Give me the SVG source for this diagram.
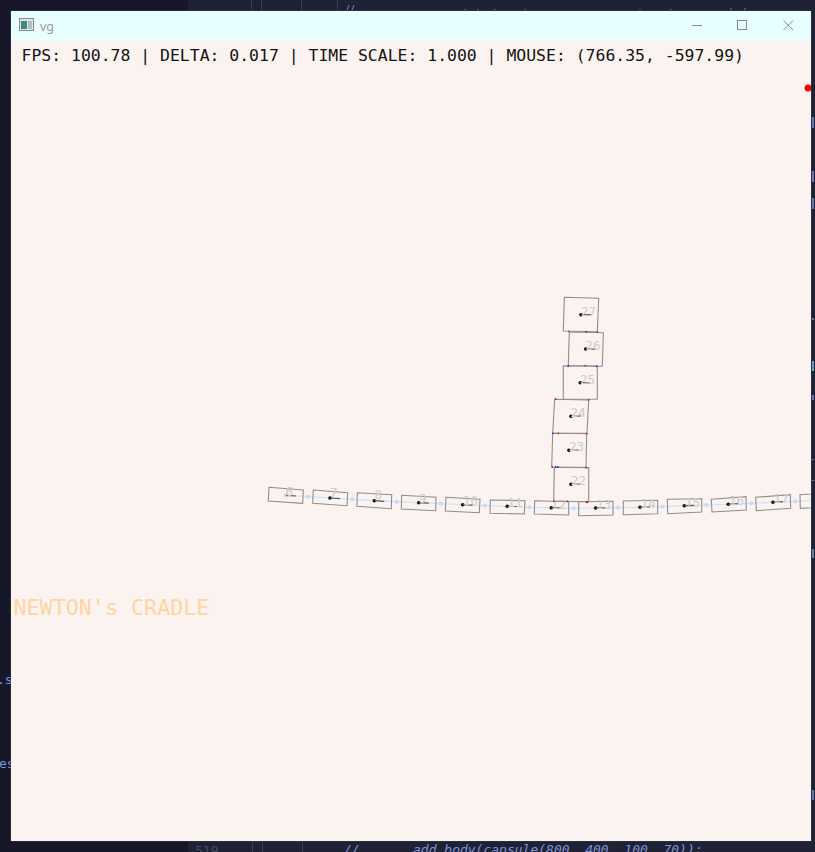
<svg xmlns="http://www.w3.org/2000/svg" width="815" height="852" viewBox="0 0 815 852">
<style>
.box{fill:none;stroke:#918e8d;stroke-width:1.100}
.dot{fill:#0a0a0a}
.tick{stroke:#5a5a5a;stroke-width:1.200;fill:none}
.num{font-family:"DejaVu Sans Mono","Liberation Mono",monospace;font-size:12.500px;fill:#cfccca}
.pin{fill:#c4dcfb}
.r{fill:#e8122c}
.b{fill:#2a2ae0}
.ide{font-family:"DejaVu Sans Mono","Liberation Mono",monospace;font-size:13px;fill:#7d93d8}
.ctl{fill:none;stroke:#8a8a8a;stroke-width:1}
</style>
<defs>
<clipPath id="win"><rect x="11" y="11" width="800" height="830"/></clipPath>
</defs>
<rect width="815" height="852" fill="#1f2135"/>
<rect x="0" y="0" width="188" height="852" fill="#16182a"/>
<g id="ide">
<path d="M251.500 0V11M261.500 0V11M301.500 0V11M337.500 0V11M252.500 841V852M262.500 841V852M302.500 841V852" stroke="#3a3c50" fill="none"/>
<text class="ide" x="195" y="855" style="fill:#464a68">519</text>
<text class="ide" x="344" y="854" font-style="italic">//</text>
<text class="ide" x="413" y="854" font-style="italic">add_body(capsule(800, 400, 100, 70));</text>
<path d="M347 10L349 5M352 10L354 5M465 10V9M478 10V9M495 10V9M525 10V9M640 10V9M671 10V9M731 10V8M745 10V8" stroke="#6f84c4" fill="none"/>
<text class="ide" x="-3" y="684" font-size="11">.s</text>
<text class="ide" x="-1" y="768">es</text>
<path d="M813 117V128M813 171V182M813 198V209M813 318V320M813 395V400M813 459V460M813 480V481M813 549V558M813 790V800" stroke="#5f76c0" stroke-width="2" fill="none"/>
<path d="M813 361V371" stroke="#4aa7c8" stroke-width="2" fill="none"/>
</g>
<rect x="10.500" y="10.500" width="801" height="831" fill="#3a3b4a"/>
<rect x="11" y="11" width="800" height="30" fill="#e8ffff"/>
<rect x="11" y="41" width="800" height="800" fill="#fbf3f0"/>
<g id="titlebar">
<rect x="19.500" y="18.500" width="14" height="12" fill="#dfe6e6" stroke="#8a8a8a"/>
<rect x="21" y="21" width="6" height="8" fill="#3d8a7d"/>
<rect x="28" y="21" width="4" height="8" fill="#a9c0c9"/>
<text x="40" y="31" font-family="Noto Sans,Liberation Sans,sans-serif" font-size="12.500" fill="#a39895">vg</text>
<path class="ctl" d="M692 25.500H702"/>
<rect class="ctl" x="737.500" y="20.500" width="9" height="9"/>
<path class="ctl" d="M783.500 20.500L793 30M793 20.500L783.500 30"/>
</g>
<text id="hud" x="21.500" y="61" font-family="DejaVu Sans Mono,Liberation Mono,monospace" font-size="16.440" fill="#141414">FPS: 100.78 | DELTA: 0.017 | TIME SCALE: 1.000 | MOUSE: (766.35, -597.99)</text>
<text id="title" x="13.500" y="615" font-family="DejaVu Sans Mono,Liberation Mono,monospace" font-size="21.700" fill="#ffd5a3">NEWTON's CRADLE</text>
<g clip-path="url(#win)">
<circle id="mouse" cx="808" cy="88" r="3.500" fill="#ff0000"/>
<g id="connectors">
<polyline points="286,495.300 308,496.700 330,498 352.300,499.300 374.300,500.700 396.700,501.700 418.700,502.700 440.700,503.700 462.700,504.700 485,505.700 507.300,506.300 529.300,507.300 551.300,507.700 573.700,508.300 595.700,508 618,507.700 640,507.300 662.300,506.700 684.300,505.700 706.300,505 728.300,504.300 751,503.300 773,502.300 795.300,501.300 817,500" fill="none" stroke="#cfe2fb" stroke-width="1.200"/>
<rect class="pin" x="284" y="493.300" width="4" height="4"/>
<g class="pin">
<circle cx="308" cy="496.700" r="2.100"/><circle cx="352.300" cy="499.300" r="2.100"/><circle cx="396.700" cy="501.700" r="2.100"/><circle cx="440.700" cy="503.700" r="2.100"/><circle cx="485" cy="505.700" r="2.100"/><circle cx="529.300" cy="507.300" r="2.100"/><circle cx="573.700" cy="508.300" r="2.100"/><circle cx="618" cy="507.700" r="2.100"/><circle cx="662.300" cy="506.700" r="2.100"/><circle cx="706.300" cy="505" r="2.100"/><circle cx="751" cy="503.300" r="2.100"/><circle cx="795.300" cy="501.300" r="2.100"/>
</g>
</g>
<g id="node-6"><polygon class="box" points="269,487.300 303.300,490 302.700,503.300 268.300,501"/><path class="tick" d="M286 495.300L296 496"/><text class="num" x="285.500" y="496">6</text></g>
<g id="node-7"><polygon class="box" points="313.300,490 347.700,492.700 347,505.700 312.700,503.300"/><circle class="dot" cx="330" cy="498" r="1.800"/><path class="tick" d="M330 498L340 498.700"/><text class="num" x="330" y="497">7</text></g>
<g id="node-8"><polygon class="box" points="357.300,492.700 391.700,494.700 391.300,508.700 357,506.300"/><circle class="dot" cx="374.300" cy="500.700" r="1.800"/><path class="tick" d="M374.300 500.700L384.300 501.400"/><text class="num" x="374.500" y="499">8</text></g>
<g id="node-9"><polygon class="box" points="401.700,495.300 436,497.300 435.700,510.700 401.300,509"/><circle class="dot" cx="418.700" cy="502.700" r="1.800"/><path class="tick" d="M418.700 502.700L428.700 503.200"/><text class="num" x="419" y="503">9</text></g>
<g id="node-10"><polygon class="box" points="446,497.300 480,499.300 479.300,512.700 445.300,511"/><circle class="dot" cx="462.700" cy="504.700" r="1.800"/><path class="tick" d="M462.700 504.700L472.700 505.200"/><text class="num" x="463" y="505">10</text></g>
<g id="node-11"><polygon class="box" points="490.300,500 525,500.700 524.300,514 490,513.300"/><circle class="dot" cx="507.300" cy="506.300" r="1.800"/><path class="tick" d="M507.300 506.300L517.300 506.500"/><text class="num" x="507.500" y="507">11</text></g>
<g id="node-12"><polygon class="box" points="534.700,500.700 568.700,501.700 568.700,515 534.300,514"/><circle class="dot" cx="551.300" cy="507.700" r="1.800"/><path class="tick" d="M551.300 507.700L561.300 508"/><text class="num" x="551" y="509">12</text></g>
<g id="node-13"><polygon class="box" points="578.700,501.700 613,501.300 613,515 578.700,515.700"/><circle class="dot" cx="595.700" cy="508" r="1.800"/><path class="tick" d="M595.700 508L605.700 507.800"/><text class="num" x="596" y="509">13</text></g>
<g id="node-14"><polygon class="box" points="623.300,501 657.700,500.300 657.700,513.700 623.300,514.700"/><circle class="dot" cx="640" cy="507.300" r="1.800"/><path class="tick" d="M640 507.300L650 507"/><text class="num" x="640.500" y="508">14</text></g>
<g id="node-15"><polygon class="box" points="667.300,499.300 701.700,498.700 701.700,512 667.700,513.700"/><circle class="dot" cx="684.300" cy="505.700" r="1.800"/><path class="tick" d="M684.300 505.700L694.300 505.300"/><text class="num" x="685" y="507">15</text></g>
<g id="node-16"><polygon class="box" points="711.300,499.300 746,496.700 746.300,510 712,512"/><circle class="dot" cx="728.300" cy="504.300" r="1.800"/><path class="tick" d="M728.300 504.300L738.300 503.700"/><text class="num" x="729" y="505">16</text></g>
<g id="node-17"><polygon class="box" points="755.700,497.300 790.300,494.700 790.700,508.300 756.300,510.700"/><circle class="dot" cx="773" cy="502.300" r="1.800"/><path class="tick" d="M773 502.300L783 501.600"/><text class="num" x="773.500" y="503">17</text></g>
<g id="node-18"><polygon class="box" points="800,494.700 835,492.700 835,506.300 800.300,508.300"/></g>
<g id="node-22"><polygon class="box" points="554.300,467.300 588.700,467.700 588.700,501.700 553.700,501"/><circle class="dot" cx="571" cy="484.300" r="1.800"/><path class="tick" d="M571 484.300L581 484"/><text class="num" x="571" y="485">22</text></g>
<g id="node-23"><polygon class="box" points="552.700,433.300 586.700,433.700 586,467.300 551.700,467"/><circle class="dot" cx="569" cy="450.300" r="1.800"/><path class="tick" d="M569 450.300L579 450"/><text class="num" x="569" y="451">23</text></g>
<g id="node-24"><polygon class="box" points="554.700,399.300 588.700,400 587,433.300 552.700,433"/><circle class="dot" cx="571" cy="416.300" r="1.800"/><path class="tick" d="M571 416.300L581 416"/><text class="num" x="570.500" y="417">24</text></g>
<g id="node-25"><polygon class="box" points="563.300,365.700 597.300,366 597.300,399.300 563.300,399"/><circle class="dot" cx="580.300" cy="382.700" r="1.800"/><path class="tick" d="M580.300 382.700L590.300 383"/><text class="num" x="580" y="384">25</text></g>
<g id="node-26"><polygon class="box" points="569.300,332 603.300,332.700 602.300,366.300 568.300,365.700"/><circle class="dot" cx="585.700" cy="349" r="1.800"/><path class="tick" d="M585.700 349L595.700 349.200"/><text class="num" x="585.500" y="350">26</text></g>
<g id="node-27"><polygon class="box" points="564.300,297.300 598.700,298.300 597.300,331.700 563.300,331"/><circle class="dot" cx="581" cy="314.700" r="1.800"/><path class="tick" d="M581 314.700L591 314.700"/><text class="num" x="581" y="316">27</text></g>
<g id="contacts">
<g class="r"><circle cx="569" cy="331.300" r=".9"/><circle cx="597.300" cy="332" r=".9"/><circle cx="585.300" cy="365.700" r=".9"/><circle cx="555.700" cy="399" r=".9"/><circle cx="588.700" cy="399.700" r=".9"/><circle cx="558.300" cy="433.300" r=".9"/><circle cx="586.700" cy="433.700" r=".9"/><circle cx="552.300" cy="467" r=".9"/><circle cx="554" cy="501.300" r=".9"/><circle cx="567.300" cy="501.300" r=".9"/><circle cx="587" cy="502" r="1.300"/></g>
<g class="b"><circle cx="586.300" cy="331.700" r=".9"/><circle cx="568.300" cy="366" r=".9"/><circle cx="596.700" cy="366.300" r=".9"/><circle cx="552.700" cy="433.300" r=".9"/><circle cx="555.700" cy="467" r=".9"/><circle cx="558" cy="467" r=".9"/><circle cx="586.300" cy="467.700" r=".9"/></g>
</g>
</g>
</svg>
